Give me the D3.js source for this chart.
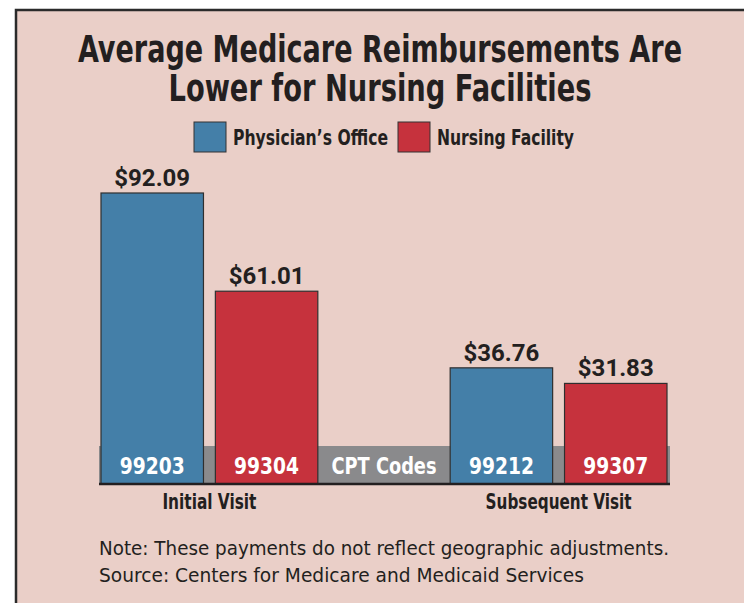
<!DOCTYPE html>
<html>
<head>
<meta charset="utf-8">
<script src="https://cdn.jsdelivr.net/npm/d3@7"></script>
<style>
  html, body { margin: 0; padding: 0; background: #fff; }
  svg { display: block; }
  .cond { font-family: "DejaVu Sans Condensed", "Liberation Sans Narrow", sans-serif; }
  .val { font-family: Roboto, "Liberation Sans", sans-serif; }
</style>
</head>
<body>
<svg id="chart"></svg>
<script>
// chart values
const groups = ['Initial Visit', 'Subsequent Visit'];
const series = ['Physician’s Office', 'Nursing Facility'];
const initialValues = [92.09, 61.01];
const subsequentValues = [36.76, 31.83];
const cptCodes = [['99203', '99304'], ['99212', '99307']];
const titleLines = ['Average Medicare Reimbursements Are', 'Lower for Nursing Facilities'];
const noteLines = ['Note: These payments do not reflect geographic adjustments.',
                   'Source: Centers for Medicare and Medicaid Services'];

const colors = { 'Physician’s Office': '#447fa8', 'Nursing Facility': '#c6323d' };
const bgColor = '#eacfc8';
const ink = '#231f20';

// squeeze the condensed texts to the widths seen in the print
const titleWidths = [604, 423];
const legendWidths = [155, 137];
const groupLabelWidths = { 'Initial Visit': 94, 'Subsequent Visit': 146 };
const noteWidths = [570, 485];

const data = [];
groups.forEach((g, gi) => {
  const vals = gi === 0 ? initialValues : subsequentValues;
  series.forEach((s, si) => {
    data.push({ group: g, series: s, value: vals[si], code: cptCodes[gi][si] });
  });
});

const W = 744, H = 603;
const svg = d3.select('#chart').attr('width', W).attr('height', H);

// background + frame
svg.append('rect').attr('x', 16).attr('y', 10).attr('width', W - 16).attr('height', H - 10)
  .attr('fill', bgColor);
svg.append('path').attr('d', `M16,${H} V10 H${W}`)
  .attr('fill', 'none').attr('stroke', '#2b2b2b').attr('stroke-width', 2.5);

// title
svg.append('g').selectAll('text').data(titleLines).join('text')
  .attr('class', 'cond')
  .attr('x', 380).attr('y', (d, i) => 62 + i * 39)
  .attr('text-anchor', 'middle')
  .attr('font-size', 37).attr('font-weight', 'bold').attr('fill', ink)
  .attr('textLength', (d, i) => titleWidths[i]).attr('lengthAdjust', 'spacingAndGlyphs')
  .text(d => d);

// scales
const baseY = 484;
const x0 = d3.scaleBand().domain(groups).range([101, 667]).paddingInner(0.379).paddingOuter(0);
const x1 = d3.scaleBand().domain(series).range([0, x0.bandwidth()]).paddingInner(0.104).paddingOuter(0);
const y = d3.scaleLinear().domain([0, 100]).range([baseY, 168]);

// legend
const legend = svg.append('g').attr('class', 'legend');
const legendItems = [{ s: series[0], x: 194, tx: 233 }, { s: series[1], x: 398, tx: 437 }];
legendItems.forEach((it, i) => {
  legend.append('rect').attr('x', it.x).attr('y', 122).attr('width', 32).attr('height', 30)
    .attr('fill', colors[it.s]).attr('stroke', '#333').attr('stroke-width', 1);
  legend.append('text').attr('class', 'cond').attr('x', it.tx).attr('y', 145)
    .attr('font-size', 21).attr('font-weight', 'bold').attr('fill', ink)
    .attr('textLength', legendWidths[i]).attr('lengthAdjust', 'spacingAndGlyphs')
    .text(it.s);
});

// gray CPT band behind bars
const bandLeft = x0.range()[0] - 2, bandRight = x0.range()[1] + 3;
svg.append('rect')
  .attr('x', bandLeft).attr('y', baseY - 38)
  .attr('width', bandRight - bandLeft).attr('height', 38)
  .attr('fill', '#8a8a8c');

svg.append('text').attr('class', 'cond')
  .attr('x', (x0(groups[0]) + x0.bandwidth() + x0(groups[1])) / 2).attr('y', 474)
  .attr('text-anchor', 'middle').attr('font-size', 23).attr('font-weight', 'bold')
  .attr('fill', '#fff')
  .attr('textLength', 105).attr('lengthAdjust', 'spacingAndGlyphs')
  .text('CPT Codes');

// bars
const barG = svg.append('g');
barG.selectAll('.bar').data(data).join('rect')
  .attr('class', 'bar')
  .attr('x', d => x0(d.group) + x1(d.series))
  .attr('y', d => y(d.value))
  .attr('width', x1.bandwidth())
  .attr('height', d => baseY - y(d.value))
  .attr('fill', d => colors[d.series])
  .attr('stroke', '#2f2f2f').attr('stroke-width', 1.2);

// value labels
barG.selectAll('.val').data(data).join('text')
  .attr('class', 'val')
  .attr('x', d => x0(d.group) + x1(d.series) + x1.bandwidth() / 2)
  .attr('y', d => y(d.value) - 7)
  .attr('text-anchor', 'middle').attr('font-size', 24).attr('font-weight', 'bold')
  .attr('fill', ink)
  .text(d => '$' + d.value.toFixed(2));

// code labels inside bars
barG.selectAll('.code').data(data).join('text')
  .attr('class', 'code cond')
  .attr('x', d => x0(d.group) + x1(d.series) + x1.bandwidth() / 2)
  .attr('y', 474)
  .attr('text-anchor', 'middle').attr('font-size', 23).attr('font-weight', 'bold')
  .attr('fill', '#fff')
  .attr('textLength', 65).attr('lengthAdjust', 'spacingAndGlyphs')
  .text(d => d.code);

// baseline
svg.append('line').attr('x1', bandLeft).attr('x2', bandRight)
  .attr('y1', baseY).attr('y2', baseY)
  .attr('stroke', ink).attr('stroke-width', 2.5);

// x axis (group labels)
const xAxis = d3.axisBottom(x0).tickSize(0).tickPadding(0);
const xAxisG = svg.append('g').attr('transform', `translate(0,${baseY})`).call(xAxis);
xAxisG.select('.domain').remove();
xAxisG.selectAll('text').attr('class', 'cond')
  .attr('dy', null).attr('y', 25)
  .attr('font-size', 22).attr('font-weight', 'bold').attr('fill', ink)
  .attr('textLength', d => groupLabelWidths[d]).attr('lengthAdjust', 'spacingAndGlyphs');

// notes
svg.append('g').selectAll('text').data(noteLines).join('text')
  .attr('class', 'cond')
  .attr('x', 99).attr('y', (d, i) => 555 + i * 27)
  .attr('font-size', 19).attr('fill', ink)
  .attr('textLength', (d, i) => noteWidths[i]).attr('lengthAdjust', 'spacingAndGlyphs')
  .text(d => d);
</script>
</body>
</html>
